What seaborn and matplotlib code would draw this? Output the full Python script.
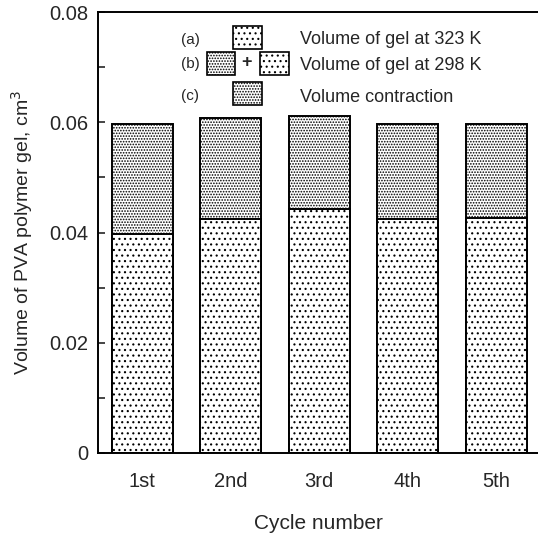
import numpy as np
import pandas as pd
import matplotlib
matplotlib.use("Agg")
import matplotlib.pyplot as plt
from matplotlib.patches import Rectangle
import seaborn as sns

# data (cm3)
cycles = ['1st', '2nd', '3rd', '4th', '5th']
vol_323 = [0.0398, 0.0425, 0.0443, 0.0425, 0.0426]   # gel at 323 K (lower part)
vol_298 = [0.0597, 0.0608, 0.0612, 0.0597, 0.0597]   # gel at 298 K (total bar)
yticks = [0, 0.02, 0.04, 0.06, 0.08]
ytick_labels = ['0', '0.02', '0.04', '0.06', '0.08']

sns.set_style("white")
plt.rcParams['font.family'] = ['Liberation Sans', 'DejaVu Sans']
plt.rcParams['hatch.color'] = '0.45'
plt.rcParams['hatch.linewidth'] = 0.8

df = pd.DataFrame({'cycle': cycles, 'v323': vol_323, 'v298': vol_298})

W = 538
fig = plt.figure(figsize=(5.38, 5.38), dpi=100)
ax = fig.add_axes([98 / W, 1 - 453 / W, 1 - 98 / W, (453 - 12) / W])

bar_kw = dict(color='white', edgecolor='black', linewidth=1.4, width=0.69, saturation=1)
sns.barplot(data=df, x='cycle', y='v298', hatch='......', ax=ax, **bar_kw)
sns.barplot(data=df, x='cycle', y='v323', hatch='...', ax=ax, **bar_kw)

ax.set_ylim(0, 0.08)
ax.set_xlim(-0.5, 4.47)
ax.set_yticks(yticks)
ax.set_yticklabels(ytick_labels, fontsize=14.5)
ax.set_yticks([0.01, 0.03, 0.05, 0.07], minor=True)
ax.tick_params(axis='y', which='both', direction='in', left=True, length=5, width=1.2, pad=7)
ax.tick_params(axis='x', length=0, pad=14, labelsize=14.5)

for s in ['left', 'top', 'bottom']:
    ax.spines[s].set_visible(True)
    ax.spines[s].set_color('black')
    ax.spines[s].set_linewidth(1.4)
ax.spines['right'].set_visible(False)

ax.set_xlabel('Cycle number', fontsize=15, labelpad=16)
ax.set_ylabel('Volume of PVA polymer gel, cm$^3$', fontsize=14, labelpad=10)


# hand-made legend at the top of the plot (pixel positions -> figure fraction)
def box(x0, y0, x1, y1, hatch):
    r = Rectangle((x0 / W, 1 - y1 / W), (x1 - x0) / W, (y1 - y0) / W,
                  transform=fig.transFigure, facecolor='white', edgecolor='black',
                  linewidth=1.2, hatch=hatch)
    fig.add_artist(r)


box(233, 26, 262, 49, '...')
box(207, 52, 235, 75, '......')
box(260, 52, 289, 75, '...')
box(233, 82, 262, 105, '......')

for lab, yy in [('(a)', 40), ('(b)', 64), ('(c)', 96)]:
    fig.text(181 / W, 1 - yy / W, lab, fontsize=11, va='center')
fig.text(247 / W, 1 - 62 / W, '+', fontsize=13, fontweight='bold', ha='center', va='center')

legend_text = ['Volume of gel at 323 K', 'Volume of gel at 298 K', 'Volume contraction']
for t, yy in zip(legend_text, [40, 65, 98]):
    fig.text(300 / W, 1 - yy / W, t, fontsize=13, va='center')

plt.savefig('out.png', dpi=100)
